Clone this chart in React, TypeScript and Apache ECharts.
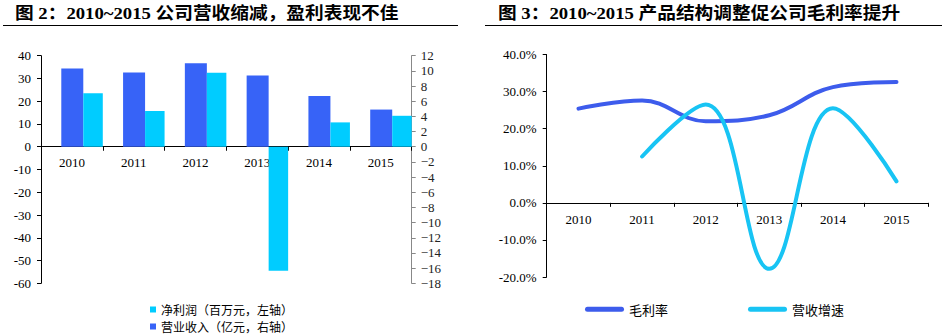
import React, { useEffect, useRef } from 'react';
import * as echarts from 'echarts';

const years = ['2010', '2011', '2012', '2013', '2014', '2015'];
// 营业收入（亿元，右轴）
const revenue = [10.3, 9.8, 11.0, 9.4, 6.7, 4.9];
// 净利润（百万元，左轴）
const netProfit = [23.5, 15.7, 32.5, -54.5, 10.7, 13.6];
// 毛利率 (%)
const grossMargin = [25.4, 27.6, 22.0, 23.6, 31.2, 32.6];
// 营收增速 (%)
const revenueGrowth: (number | null)[] = [null, 12.5, 26.5, -17.8, 25.5, 5.8];

const leftTitle = '图 2：2010~2015 公司营收缩减，盈利表现不佳';
const rightTitle = '图 3：2010~2015 产品结构调整促公司毛利率提升';
const netProfitName = '净利润（百万元，左轴）';
const revenueName = '营业收入（亿元，右轴）';
const marginName = '毛利率';
const growthName = '营收增速';

const SERIF = '"Times New Roman", "Liberation Serif", "Noto Sans CJK SC", serif';
const CJK = '"Noto Sans CJK SC", "Liberation Sans", sans-serif';

const BLUE_BAR = '#3763F7';
const CYAN_BAR = '#00CCFF';
const BLUE_LINE = '#3D5CEC';
const CYAN_LINE = '#18C4F4';

// grid geometry
const G0 = { left: 41, top: 55.7, width: 370.7, height: 227.6 };
const G1 = { left: 546.7, top: 54.5, width: 381.6, height: 222.5 };

export default function App() {
  const ref = useRef<HTMLDivElement>(null);

  useEffect(() => {
    if (!ref.current) return;
    const chart = echarts.init(ref.current, undefined, { renderer: 'svg' });

    const axisLbl = { fontSize: 13, fontFamily: SERIF, color: '#000' };
    // offsets that bring the category axes up to the zero line
    const off0 = -(G0.height * 60) / 100; // zero is 60/100 of the way up from the bottom
    const off1 = -(G1.height * 20) / 60; // zero is 20/60 of the way up from the bottom

    chart.setOption({
      animation: false,
      backgroundColor: '#fff',
      graphic: [
        {
          type: 'text', x: 15, y: 13, scaleX: 1.1,
          style: { text: leftTitle, fontSize: 17, fontWeight: 'bold', fontFamily: SERIF, fill: '#000', verticalAlign: 'middle' },
        },
        {
          type: 'text', x: 498, y: 13, scaleX: 1.1,
          style: { text: rightTitle, fontSize: 17, fontWeight: 'bold', fontFamily: SERIF, fill: '#000', verticalAlign: 'middle' },
        },
        { type: 'line', shape: { x1: 3, y1: 25.5, x2: 458, y2: 25.5 }, style: { stroke: '#000', lineWidth: 1 } },
        { type: 'line', shape: { x1: 485, y1: 25.5, x2: 942, y2: 25.5 }, style: { stroke: '#000', lineWidth: 1 } },
      ],
      grid: [G0, G1],
      legend: [
        {
          data: [netProfitName, revenueName],
          orient: 'vertical', left: 150, top: 303.5, padding: 0,
          icon: 'rect', itemWidth: 6, itemHeight: 6, itemGap: 5,
          textStyle: { fontSize: 12, lineHeight: 12, fontFamily: CJK, color: '#000' },
        },
        {
          data: [marginName, growthName],
          orient: 'horizontal', left: 585, top: 302.8, padding: 0,
          icon: 'path://M2.5,0 H36.5 A2.5,2.5 0 0 1 36.5,5 H2.5 A2.5,2.5 0 0 1 2.5,0 Z',
          itemWidth: 39, itemHeight: 5, itemGap: 80,
          textStyle: { fontSize: 13, fontFamily: CJK, color: '#000' },
        },
      ],
      xAxis: [
        {
          type: 'category', gridIndex: 0, data: years, position: 'bottom', offset: off0,
          axisLine: { onZero: false, lineStyle: { color: '#000', width: 1 } },
          axisTick: { show: true, length: 4, lineStyle: { color: '#000' } },
          axisLabel: { ...axisLbl, margin: 9 },
          splitLine: { show: false },
        },
        {
          type: 'category', gridIndex: 1, data: years, position: 'bottom', offset: off1,
          axisLine: { onZero: false, lineStyle: { color: '#000', width: 1 } },
          axisTick: { show: true, length: 4, lineStyle: { color: '#000' } },
          axisLabel: { ...axisLbl, margin: 10 },
          splitLine: { show: false },
        },
      ],
      yAxis: [
        {
          type: 'value', gridIndex: 0, position: 'left', min: -60, max: 40, interval: 10,
          axisLine: { show: true, onZero: false, lineStyle: { color: '#000' } },
          axisTick: { show: true, length: 4, lineStyle: { color: '#000' } },
          axisLabel: { ...axisLbl, margin: 10 },
          splitLine: { show: false },
        },
        {
          type: 'value', gridIndex: 0, position: 'right', min: -18, max: 12, interval: 2,
          axisLine: { show: true, onZero: false, lineStyle: { color: '#888' } },
          axisTick: { show: true, length: 4, lineStyle: { color: '#888' } },
          axisLabel: {
            ...axisLbl, color: '#222', margin: 9,
            formatter: (v: number) => String(v).replace('-', '\u2212'),
          },
          splitLine: { show: false },
        },
        {
          type: 'value', gridIndex: 1, min: -20, max: 40, interval: 10,
          axisLine: { show: true, onZero: false, lineStyle: { color: '#000' } },
          axisTick: { show: true, length: 4, lineStyle: { color: '#000' } },
          axisLabel: { ...axisLbl, margin: 10, formatter: (v: number) => v.toFixed(1) + '%' },
          splitLine: { show: false },
        },
      ],
      series: [
        {
          name: '_pad', type: 'bar', xAxisIndex: 0, yAxisIndex: 0,
          data: years.map(() => null), barWidth: 20.3, barGap: '0%', silent: true,
          itemStyle: { color: 'rgba(0,0,0,0)' },
        },
        {
          name: revenueName, type: 'bar', xAxisIndex: 0, yAxisIndex: 1,
          data: revenue, barWidth: 22, barGap: '0%', color: BLUE_BAR,
          itemStyle: { color: BLUE_BAR },
        },
        {
          name: netProfitName, type: 'bar', xAxisIndex: 0, yAxisIndex: 0,
          data: netProfit, barWidth: 19.5, barGap: '0%', color: CYAN_BAR,
          itemStyle: { color: CYAN_BAR },
        },
        {
          name: marginName, type: 'line', xAxisIndex: 1, yAxisIndex: 2,
          data: grossMargin, smooth: 0.4, symbol: 'none', color: BLUE_LINE,
          lineStyle: { width: 4, color: BLUE_LINE, cap: 'round', join: 'round' },
        },
        {
          name: growthName, type: 'line', xAxisIndex: 1, yAxisIndex: 2,
          data: revenueGrowth, smooth: 0.4, symbol: 'none', color: CYAN_LINE,
          lineStyle: { width: 4, color: CYAN_LINE, cap: 'round', join: 'round' },
        },
      ],
    });

    return () => chart.dispose();
  }, []);

  return (
    <div
      ref={ref}
      style={{ position: 'absolute', left: 0, top: 0, width: 951, height: 334, background: '#fff' }}
    />
  );
}
